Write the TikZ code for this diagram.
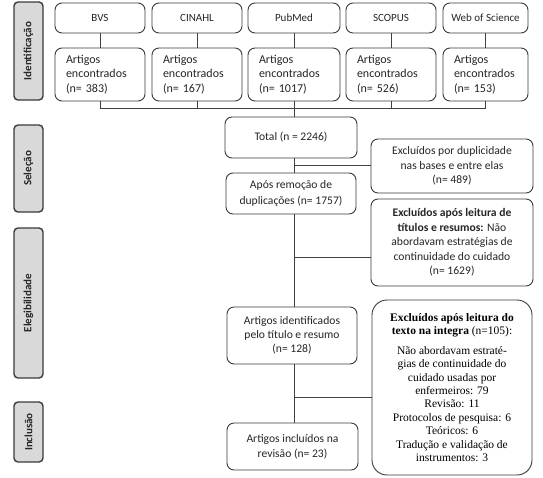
\documentclass[tikz,border=0pt]{standalone}
\usepackage{fontspec}
\setmainfont{Carlito}
\newfontfamily\serifft{Liberation Serif}
\definecolor{bordc}{HTML}{3A3A3A}
\definecolor{linec}{HTML}{404040}
\definecolor{txtc}{HTML}{262626}
\definecolor{grayfill}{HTML}{D9D9D9}
\begin{document}
\begin{tikzpicture}[x=1pt,y=-1pt,
  box/.style={draw=bordc,line width=0.9pt,rounded corners=7pt,fill=white,inner sep=0pt,align=center,text=txtc,font=\fontsize{11.6}{15}\selectfont},
  phase/.style={draw=bordc,line width=1.4pt,rounded corners=4pt,fill=grayfill,inner sep=0pt,rotate=90,minimum height=29pt,font=\fontsize{11}{13}\selectfont\bfseries,text=txtc},
  conn/.style={draw=linec,line width=0.9pt}]
\useasboundingbox (0,0) rectangle (543,477);
% phase labels
\node[phase,minimum width=98pt] (ph1) at (28.5,51) {Identificação};
\node[phase,minimum width=87pt] (ph2) at (28.5,168.5) {Seleção};
\node[phase,minimum width=150pt] (ph3) at (28.5,303) {Elegibilidade};
\node[phase,minimum width=60pt] (ph4) at (28.5,432) {Inclusão};
% database boxes
\foreach \nm/\xa/\xb/\lab in {bvs/55/145/BVS, cin/152/242/CINAHL, pub/248/340/PubMed, sco/346/436/SCOPUS, wos/443/528/Web of Science}{
  \pgfmathsetmacro{\w}{\xb-\xa}
  \node[box,minimum width=\w pt,minimum height=30pt,font=\fontsize{11}{13}\selectfont] (\nm A) at ({(\xa+\xb)/2},18) {\lab};
}
\foreach \nm/\xa/\xb/\n in {bvs/55/145/383, cin/152/242/167, pub/248/340/1017, sco/346/436/526, wos/443/528/153}{
  \pgfmathsetmacro{\w}{\xb-\xa}
  \pgfmathsetmacro{\tw}{\xb-\xa-22}
  \node[box,minimum width=\w pt,minimum height=53pt,text width=\tw pt,align=left,font=\fontsize{12}{14.2}\selectfont] (\nm B) at ({(\xa+\xb)/2},74.5) {Artigos\\encontrados\\(n= \n)};
}
\coordinate (hl) at (100,108);
\foreach \nm in {bvs,cin,pub,sco,wos}{
  \draw[conn] (\nm A.south) -- (\nm B.north);
  \draw[conn] (\nm B.south) -- (\nm B.south |- hl);
}
\draw[conn] (bvsB.south |- hl) -- (wosB.south |- hl);
% main column
\node[box,minimum width=132pt,minimum height=41pt] (total) at (291,137.5) {Total (n = 2246)};
\node[box,minimum width=130pt,minimum height=41pt,font=\fontsize{11.6}{16}\selectfont] (apos) at (291,193.5) {Após remoção de\\duplicações (n= 1757)};
\node[box,minimum width=130pt,minimum height=57pt,font=\fontsize{11.6}{14}\selectfont] (ident) at (292,335.5) {Artigos identificados\\pelo título e resumo\\(n= 128)};
\node[box,minimum width=131pt,minimum height=47pt] (incl) at (292.5,446.5) {Artigos incluídos na\\revisão (n= 23)};
% exclusion boxes
\node[box,minimum width=162pt,minimum height=54pt,font=\fontsize{11.6}{14.5}\selectfont] (ex1) at (452,166) {Excluídos por duplicidade\\nas bases e entre elas\\(n= 489)};
\node[box,minimum width=162pt,minimum height=87pt,font=\fontsize{11.6}{14.5}\selectfont] (ex2) at (452,242.5) {\textbf{Excluídos após leitura de}\\\textbf{títulos e resumos:} Não\\abordavam estratégias de\\continuidade do cuidado\\(n= 1629)};
\node[box,rounded corners=15pt,minimum width=160pt,minimum height=175pt,font=\serifft\fontsize{11.5}{13.4}\selectfont,text=black] (ex3) at (452,387.5) {\textbf{Excluídos após leitura do}\\\textbf{texto na integra} (n=105):\\[6pt]Não abordavam estraté-\\gias de continuidade do\\cuidado usadas por\\enfermeiros: 79\\Revisão: 11\\Protocolos de pesquisa: 6\\Teóricos: 6\\Tradução e validação de\\instrumentos: 3};
% trunk
\draw[conn] (pubB.south) -- (pubB.south |- total.north);
\draw[conn] (pubB.south |- total.south) -- (pubB.south |- apos.north);
\draw[conn] (pubB.south |- apos.south) -- (pubB.south |- ident.north);
\draw[conn] (pubB.south |- ident.south) -- (pubB.south |- incl.north);
\coordinate (b1) at (294,165);
\coordinate (b2) at (294,257);
\coordinate (b3) at (294,397);
\draw[conn] (b1) -- (b1 -| ex1.west);
\draw[conn] (b2) -- (b2 -| ex2.west);
\draw[conn] (b3) -- (b3 -| ex3.west);
\end{tikzpicture}
\end{document}
